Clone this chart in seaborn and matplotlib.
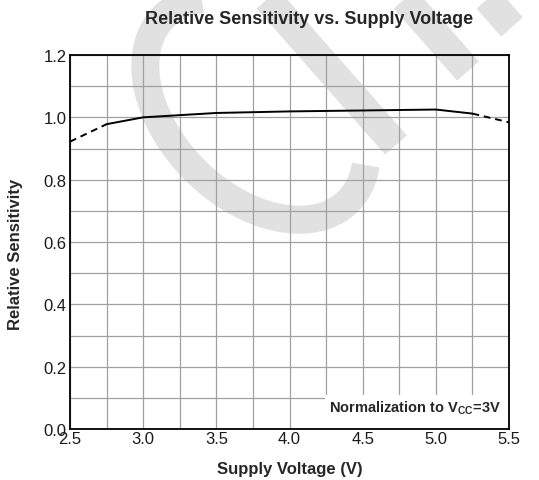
import numpy as np
import seaborn as sns
import matplotlib.pyplot as plt
from matplotlib.lines import Line2D
from matplotlib.patches import Rectangle

# Data
volt_solid = [2.75, 3.0, 3.5, 4.0, 4.5, 5.0, 5.25]
sens_solid = [0.978, 1.0, 1.014, 1.019, 1.022, 1.025, 1.012]
volt_dash_lo = [2.5, 2.75]
sens_dash_lo = [0.922, 0.978]
volt_dash_hi = [5.25, 5.5]
sens_dash_hi = [1.012, 0.984]

x_ticks = [2.5, 3.0, 3.5, 4.0, 4.5, 5.0, 5.5]
y_ticks = [0.0, 0.2, 0.4, 0.6, 0.8, 1.0, 1.2]

sns.set_theme(style="white")
plt.rcParams['font.family'] = ['Liberation Sans', 'DejaVu Sans']
plt.rcParams['mathtext.fontset'] = 'custom'
plt.rcParams['mathtext.rm'] = 'Liberation Sans'
plt.rcParams['mathtext.bf'] = 'Liberation Sans:bold'

W, H = 539, 481
fig = plt.figure(figsize=(W / 100, H / 100), dpi=100)
ax = fig.add_axes([70 / W, 1 - 430 / H, 439 / W, 374 / H])
ax.patch.set_alpha(0)

# grey watermark behind the chart (pixel geometry -> figure fraction)
wm_color = '#e1e1e1'
t = np.radians(np.linspace(-26, 215, 200))
ca, cb = 130.5, 86.5
arc_x = 256 + 0.7071 * (ca * np.cos(t) - cb * np.sin(t))
arc_y = 110 + 0.7071 * (ca * np.cos(t) + cb * np.sin(t))
shapes = [(arc_x, arc_y, 28),
          (np.array([250, 396]), np.array([-20, 146]), 29),
          (np.array([387, 468]), np.array([-20, 72]), 29),
          (np.array([470, 512]), np.array([-20, 28]), 29)]
for sx, sy, w in shapes:
    fig.add_artist(Line2D(sx / W, 1 - sy / H, transform=fig.transFigure,
                          color=wm_color, lw=w * 0.72, solid_capstyle='butt',
                          zorder=-5))

sns.lineplot(x=volt_solid, y=sens_solid, color='black', lw=1.4, ax=ax, zorder=4)
sns.lineplot(x=volt_dash_lo, y=sens_dash_lo, color='black', lw=1.4,
             linestyle=(0, (3.5, 2.5)), ax=ax, zorder=4)
sns.lineplot(x=volt_dash_hi, y=sens_dash_hi, color='black', lw=1.4,
             linestyle=(0, (3.5, 2.5)), ax=ax, zorder=4)

ax.set_xlim(2.5, 5.5)
ax.set_ylim(0, 1.2)
ax.set_xticks(x_ticks)
ax.set_xticklabels([f"{v:.1f}" for v in x_ticks])
ax.set_yticks(y_ticks)
ax.set_yticklabels([f"{v:.1f}" for v in y_ticks])
ax.set_xticks(np.arange(2.5, 5.51, 0.25), minor=True)
ax.set_yticks(np.arange(0, 1.21, 0.1), minor=True)
ax.grid(which='both', color='#a0a0a0', lw=0.9)
ax.set_axisbelow(True)
ax.tick_params(which='both', length=0, labelsize=12, colors='#1a1a1a')
ax.tick_params(axis='x', pad=1.5)
ax.tick_params(axis='y', pad=2.5)
for s in ax.spines.values():
    s.set_color('black')
    s.set_linewidth(1.3)
    s.set_zorder(5)

ax.set_xlabel('Supply Voltage (V)', fontsize=12, fontweight='bold')
ax.set_ylabel('Relative Sensitivity', fontsize=12, fontweight='bold')
ax.xaxis.set_label_coords(0.5, -0.085)
ax.yaxis.set_label_coords(-0.106, 0.47)

fig.text(309 / W, 1 - 20 / H, 'Relative Sensitivity vs. Supply Voltage',
         ha='center', va='center', fontsize=13, fontweight='bold')

# normalization note box
ax.add_patch(Rectangle((0.582, 0.004), 0.415, 0.088, transform=ax.transAxes,
                       facecolor='white', edgecolor='none', zorder=3))
ax.text(0.787, 0.059, r'Normalization to $\mathbf{V_{CC}}$=3V', transform=ax.transAxes,
        ha='center', va='center', fontsize=10.5, fontweight='bold', zorder=4)

fig.savefig('out.png', dpi=100)
